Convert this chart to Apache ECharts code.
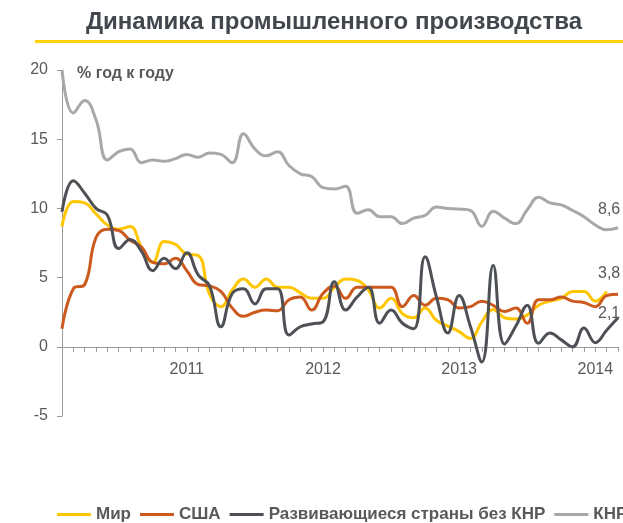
<!DOCTYPE html>
<html><head><meta charset="utf-8">
<script src="https://cdn.jsdelivr.net/npm/echarts@6/dist/echarts.min.js"></script>
<style>html,body{margin:0;padding:0;background:#fff}#c{width:623px;height:523px}</style>
</head><body><div id="c"></div>
<script>
// months Feb 2010 .. Mar 2014
var months = [];
(function(){ var y=2010,m=2; for(var i=0;i<50;i++){ months.push(y+'-'+(m<10?'0':'')+m); m++; if(m>12){m=1;y++;} } })();

var yTicks = {min:-5, max:20, step:5};

var mir = [8.7,10.5,10.4,9.6,8.8,8.5,8.7,7.2,6.1,7.6,7.4,6.7,6.6,3.8,2.9,4.1,4.9,4.3,4.9,4.3,
           4.3,3.9,3.5,3.5,4.3,4.9,4.8,4.1,2.8,3.5,2.4,2.1,2.8,1.9,1.5,1.1,0.6,1.8,2.7,2.1,
           2.0,2.3,3.0,3.3,3.5,4.0,4.0,3.3,4.0];
var usa = [1.3,4.2,4.5,7.9,8.5,8.4,7.7,7.2,6.1,6.0,6.4,5.5,4.5,4.4,4.0,2.8,2.2,2.5,2.65,2.6,
           3.4,3.6,2.65,3.85,4.4,3.5,4.3,4.3,4.3,4.3,2.9,3.7,3.0,3.5,3.4,2.8,2.9,3.3,3.0,2.55,
           2.8,1.7,3.4,3.4,3.6,3.3,3.2,2.9,3.7,3.8];
var em  = [9.75,12.0,11.1,10.0,9.5,7.1,7.75,6.9,5.5,6.4,5.65,6.8,5.2,4.4,1.45,3.85,4.2,3.1,4.2,4.2,
           0.85,1.45,1.65,1.8,4.7,2.65,3.6,4.3,1.7,2.65,1.7,1.3,6.5,3.6,1.0,3.7,1.45,-1.1,5.9,0.2,
           1.5,3.0,0.25,1.0,0.5,0.0,1.35,0.3,1.2,2.1];
var chn = [20.0,16.9,17.8,16.4,13.5,14.1,14.3,13.3,13.5,13.4,13.6,13.9,13.7,14.0,13.9,13.3,15.4,14.3,13.8,14.1,
           13.1,12.5,12.3,11.5,11.4,11.6,9.65,9.9,9.4,9.4,8.9,9.3,9.5,10.1,10.0,9.95,9.85,8.7,9.8,9.3,
           8.9,9.9,10.8,10.4,10.25,9.85,9.4,8.8,8.45,8.6];

var names = ['Мир','США','Развивающиеся страны без КНР','КНР'];
var colors = ['#FFC600','#CC5A1E','#4D5055','#A6A8AB'];

var FONT = '"Liberation Sans", Arial, sans-serif';
var TXT = '#595959';

function fmt(v){ return String(v).replace('.', ','); }

function mk(idx, data, endOff){
  var s = {
    name: names[idx], type:'line', data:data, smooth:0.45, symbol:'none',
    lineStyle:{width:3, color:colors[idx]}, itemStyle:{color:colors[idx]},
    z: 2 + idx
  };
  if (endOff) {
    s.endLabel = {show:true, distance:0, offset:endOff, color:TXT, fontSize:16, fontFamily:FONT,
      formatter:function(p){ return fmt(p.value); }};
  }
  return s;
}

var GRID_TOP = 70, GRID_BOTTOM = 107, H = 523;
var gridH = H - GRID_TOP - GRID_BOTTOM;
var zeroShift = gridH * (0 - yTicks.min) / (yTicks.max - yTicks.min);

var chart = echarts.init(document.getElementById('c'), null, {renderer:'canvas'});
chart.setOption({
  animation:false,
  textStyle:{fontFamily:FONT},
  grid:{left:62, right:5, top:GRID_TOP, bottom:GRID_BOTTOM, containLabel:false},
  graphic:[
    {type:'text', left:86, top:10, style:{text:'Динамика промышленного производства',
      font:'bold 24px '+FONT, fill:'#41474C'}},
    {type:'rect', shape:{x:35, y:40, width:600, height:3}, style:{fill:'#FFD200'}},
    {type:'text', left:77, top:66, style:{text:'% год к году', font:'bold 16px '+FONT, fill:TXT}}
  ],
  legend:{
    left:52, top:501, width:900, itemWidth:34, itemHeight:3, itemGap:9, icon:'rect',
    textStyle:{fontSize:17, fontWeight:'bold', color:TXT, fontFamily:FONT},
    data:names
  },
  xAxis:{
    type:'category', data:months, boundaryGap:false,
    offset: -zeroShift,
    axisLine:{onZero:false, lineStyle:{color:'#9A9A9A', width:1}},
    axisTick:{show:true, interval:0, length:5, lineStyle:{color:'#9A9A9A'}},
    axisLabel:{interval:function(i){return i%12===11;}, formatter:function(v){return v.slice(0,4);},
      fontSize:16, color:TXT, margin:15, fontFamily:FONT},
    splitLine:{show:false}
  },
  yAxis:{
    type:'value', min:yTicks.min, max:yTicks.max, interval:yTicks.step,
    axisLine:{show:true, lineStyle:{color:'#9A9A9A', width:1}},
    axisTick:{show:true, length:5, lineStyle:{color:'#9A9A9A'}},
    axisLabel:{fontSize:16, color:TXT, margin:14, fontFamily:FONT},
    splitLine:{show:false}
  },
  series:[
    mk(0, mir, null),
    mk(1, usa, [-20,-21]),
    mk(2, em, [-20,-4]),
    mk(3, chn, [-20,-18])
  ]
});
</script></body></html>
